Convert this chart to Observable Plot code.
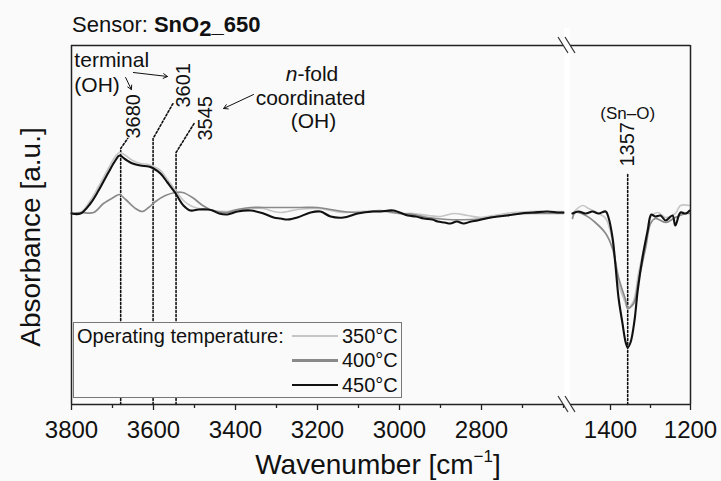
<!DOCTYPE html>
<html><head><meta charset="utf-8">
<script src="https://cdn.jsdelivr.net/npm/d3@7"></script>
<script src="https://cdn.jsdelivr.net/npm/@observablehq/plot@0.6"></script>
<style>
body{margin:0;background:#fafafa;}
#wrap{position:relative;width:721px;height:481px;overflow:hidden;font-family:"Liberation Sans",Arial,sans-serif;color:#111;background:#fafafa;}
.abs{position:absolute;white-space:nowrap;}
</style></head><body>
<div id="wrap">
  <div class="abs" style="left:564px;top:28px;width:6px;height:372px;background:#fff"></div>
  <div id="title" class="abs" style="left:72px;top:14px;font-size:22px;line-height:22px">Sensor: <b>SnO<span style="position:relative;top:4px">2</span>_650</b></div>
  <div id="ylab" class="abs" style="left:31px;top:237px;font-size:28px;line-height:28px;transform:translate(-50%,-50%) rotate(-90deg)">Absorbance [a.u.]</div>
  <div id="xlab" class="abs" style="left:378px;top:451px;font-size:28px;line-height:28px;transform:translateX(-50%)">Wavenumber [cm<span style="font-size:17px;position:relative;top:-12px">−1</span>]</div>
</div>
<script>
// ---- data ----
const seriesNames = ["350°C", "400°C", "450°C"];
const seriesColors = ["#c6c6c6", "#8a8a8a", "#111111"];
const seriesWidths = [1.7, 1.7, 2.1];
const legendTitle = "Operating temperature:";

// left panel (3800–2600 cm-1): [wavenumber, absorbance a.u.]
const s350Left = [[3800,0.0],[3778,0.0],[3754,1.2],[3734,2.6],[3710,4.4],[3693,5.6],[3683,6.0],[3668,5.7],[3651,5.2],[3632,4.9],[3612,4.8],[3600,4.6],[3583,4.2],[3566,3.3],[3546,2.2],[3527,1.2],[3510,0.7],[3490,0.4],[3468,0.3],[3456,0.2],[3420,0.1],[3395,0.3],[3363,0.4],[3332,0.4],[3307,0.1],[3290,0.0],[3273,0.1],[3249,0.3],[3217,0.4],[3193,0.4],[3168,0.2],[3137,0.0],[3102,0.1],[3063,0.1],[3046,0.1],[3000,-0.1],[2966,-0.1],[2930,-0.3],[2900,-0.4],[2868,-0.1],[2834,-0.3],[2802,-0.5],[2770,-0.3],[2722,0.0],[2680,0.1],[2640,0.1],[2600,0.1]];
const s400Left = [[3800,-0.1],[3778,0.0],[3746,0.0],[3722,0.9],[3698,1.5],[3683,1.8],[3668,1.3],[3644,0.4],[3627,0.1],[3612,0.5],[3595,1.1],[3571,1.7],[3546,2.0],[3529,2.0],[3505,1.5],[3480,0.7],[3456,0.2],[3420,0.0],[3395,0.3],[3363,0.5],[3332,0.5],[3300,0.5],[3270,0.5],[3240,0.5],[3200,0.5],[3168,0.3],[3137,0.1],[3100,0.0],[3046,0.2],[3000,-0.1],[2966,-0.2],[2930,-0.5],[2883,-0.7],[2827,-0.7],[2795,-0.6],[2761,-0.4],[2720,-0.2],[2680,-0.1],[2640,-0.1],[2600,-0.1]];
const s450Left = [[3800,-0.1],[3778,-0.1],[3754,0.9],[3734,2.2],[3710,4.0],[3693,5.2],[3683,5.7],[3668,5.3],[3651,4.9],[3632,4.7],[3612,4.6],[3600,4.4],[3583,3.9],[3566,3.0],[3546,1.9],[3527,0.7],[3510,0.2],[3490,0.3],[3468,0.3],[3456,0.2],[3440,-0.1],[3420,-0.2],[3395,0.1],[3363,0.2],[3332,-0.1],[3307,-0.5],[3290,-0.6],[3273,-0.7],[3249,-0.5],[3217,0.0],[3193,0.1],[3168,-0.4],[3137,-0.5],[3102,-0.1],[3063,0.1],[3046,0.1],[3015,0.2],[2980,-0.3],[2960,-0.4],[2941,-0.6],[2920,-0.7],[2907,-0.9],[2890,-1.0],[2876,-1.1],[2860,-0.9],[2844,-1.1],[2825,-0.9],[2810,-0.8],[2778,-0.5],[2737,-0.3],[2705,-0.1],[2673,0.0],[2639,0.1],[2615,0.0],[2600,0.0]];

// right panel (1500–1200 cm-1)
const s350Right = [[1495,-0.1],[1470,0.7],[1455,0.4],[1430,-0.1],[1412,-0.6],[1395,-2.8],[1380,-7.1],[1362,-9.1],[1357,-9.6],[1342,-8.8],[1330,-6.1],[1312,-2.8],[1300,-0.5],[1282,0.0],[1262,-0.5],[1238,-0.1],[1225,0.7],[1202,0.7]];
const s400Right = [[1495,-0.6],[1488,0.0],[1462,-0.3],[1438,-1.0],[1412,-2.1],[1395,-3.6],[1380,-6.5],[1362,-8.8],[1357,-9.6],[1342,-9.1],[1330,-6.8],[1312,-3.5],[1300,-1.1],[1288,-0.6],[1262,-1.0],[1238,-0.5],[1212,-0.1],[1202,-0.1]];
const s450Right = [[1495,-0.1],[1480,0.1],[1462,-0.1],[1445,0.1],[1430,-0.1],[1412,0.1],[1405,-0.5],[1395,-2.5],[1388,-5.1],[1380,-8.5],[1370,-11.1],[1362,-13.0],[1357,-13.5],[1350,-13.0],[1340,-10.8],[1332,-7.8],[1320,-4.5],[1307,-1.8],[1298,-0.2],[1288,-0.4],[1275,-0.3],[1262,-0.8],[1245,-0.3],[1238,-1.3],[1225,0.0],[1212,-0.1],[1202,0.2]];

const xDomainLeft = [3800, 2600];
const xDomainRight = [1500, 1200];
const yDomain = [-19.2, 16.7];
const xTicksLeft = [3800, 3600, 3400, 3200, 3000, 2800];
const xMinorLeft = [3700, 3500, 3300, 3100, 2900, 2700, 2600];
const xTicksRight = [1400, 1200];
const xMinorRight = [1300];

// annotations (data coordinates)
const leadersLeft = [
  [[3680,-19.2],[3680,6.4],[3663,7.4]],
  [[3601,-19.2],[3601,7.4],[3551,11.0]],
  [[3545,-19.2],[3545,6.0],[3501,8.9]]
];
const peakLabelsLeft = [{t:"3680",x:3649,y:7.4},{t:"3601",x:3527,y:10.5},{t:"3545",x:3473,y:7.2}];
const noteStartLeft = [{t:"terminal",x:3793,y:14.6},{t:"(OH)",x:3793,y:12.1}];
const noteMiddleLeft = [{t:"coordinated",x:3217,y:10.8},{t:"(OH)",x:3210,y:8.5}];
const nfold = {x:3249, y:13.2};
const arrowsLeft = [{x1:3649,y1:14.0,x2:3566,y2:13.6},{x1:3668,y1:13.5,x2:3654,y2:12.3},{x1:3356,y1:11.8,x2:3429,y2:10.4}];
const leaderRight = [[1357,-19.2],[1357,3.9]];
const peakLabelRight = [{t:"1357",x:1357,y:4.6}];
const bondLabelRight = [{t:"(Sn–O)",x:1357,y:9.4}];

// ---- drawing ----
const wrap = document.getElementById("wrap");
const FONT = "Liberation Sans, Arial, sans-serif";
const frameStroke = "#222";
const dotted = {stroke: "#111", strokeWidth: 1.6, strokeDasharray: "2,2"};
const lineMarks = (arrs) => arrs.map((a, i) => Plot.line(a, {x: d => d[0], y: d => d[1], stroke: seriesColors[i], strokeWidth: seriesWidths[i], curve: "catmull-rom"}));

const left = Plot.plot({
  width: 566, height: 481,
  marginLeft: 71, marginRight: 3, marginTop: 45, marginBottom: 77,
  x: {domain: xDomainLeft},
  y: {domain: yDomain, axis: null},
  style: {position: "absolute", left: "0px", top: "0px", background: "transparent", fontFamily: FONT, color: "#111", overflow: "visible"},
  marks: [
    ...leadersLeft.map(l => Plot.line(l, {x: d => d[0], y: d => d[1], ...dotted})),
    ...lineMarks([s350Left, s400Left, s450Left]),
    Plot.ruleY([yDomain[0]], {stroke: frameStroke, strokeWidth: 1.5}),
    Plot.ruleY([yDomain[1]], {stroke: frameStroke, strokeWidth: 1.5}),
    Plot.ruleX([xDomainLeft[0]], {stroke: frameStroke, strokeWidth: 1.5}),
    Plot.axisX({ticks: xTicksLeft, tickSize: 6, tickPadding: 10, tickFormat: d => String(d), fontSize: 24, label: null, stroke: frameStroke, strokeWidth: 1.3}),
    Plot.axisX({ticks: xMinorLeft, tickSize: 4, tickFormat: () => "", label: null, stroke: frameStroke, strokeWidth: 1.3}),
    Plot.text(peakLabelsLeft, {x: "x", y: "y", text: "t", rotate: -90, textAnchor: "start", lineAnchor: "middle", fontSize: 20, fill: "#111"}),
    Plot.text(noteStartLeft, {x: "x", y: "y", text: "t", textAnchor: "start", lineAnchor: "bottom", fontSize: 21, fill: "#111"}),
    Plot.text(noteMiddleLeft, {x: "x", y: "y", text: "t", textAnchor: "middle", lineAnchor: "bottom", fontSize: 21, fill: "#111"}),
    Plot.text([nfold], {x: "x", y: "y", text: () => "n", textAnchor: "end", lineAnchor: "bottom", fontSize: 21, fontStyle: "italic", fill: "#111"}),
    Plot.text([nfold], {x: "x", y: "y", text: () => "-fold", textAnchor: "start", lineAnchor: "bottom", fontSize: 21, fill: "#111"}),
    Plot.arrow(arrowsLeft, {x1: "x1", y1: "y1", x2: "x2", y2: "y2", stroke: "#111", strokeWidth: 1, headLength: 7})
  ]
});
wrap.appendChild(left);

const right = Plot.plot({
  width: 155, height: 481,
  marginLeft: 4, marginRight: 31, marginTop: 45, marginBottom: 77,
  x: {domain: xDomainRight},
  y: {domain: yDomain, axis: null},
  style: {position: "absolute", left: "566px", top: "0px", background: "transparent", fontFamily: FONT, color: "#111", overflow: "visible"},
  marks: [
    Plot.line(leaderRight, {x: d => d[0], y: d => d[1], ...dotted}),
    ...lineMarks([s350Right, s400Right, s450Right]),
    Plot.ruleY([yDomain[0]], {stroke: frameStroke, strokeWidth: 1.5}),
    Plot.ruleY([yDomain[1]], {stroke: frameStroke, strokeWidth: 1.5}),
    Plot.ruleX([xDomainRight[1]], {stroke: frameStroke, strokeWidth: 1.5}),
    Plot.axisX({ticks: xTicksRight, tickSize: 6, tickPadding: 10, tickFormat: d => String(d), fontSize: 24, label: null, stroke: frameStroke, strokeWidth: 1.3}),
    Plot.axisX({ticks: xMinorRight, tickSize: 4, tickFormat: () => "", label: null, stroke: frameStroke, strokeWidth: 1.3}),
    Plot.text(peakLabelRight, {x: "x", y: "y", text: "t", rotate: -90, textAnchor: "start", lineAnchor: "middle", fontSize: 20, fill: "#111"}),
    Plot.text(bondLabelRight, {x: "x", y: "y", text: "t", textAnchor: "middle", lineAnchor: "bottom", fontSize: 17, fill: "#111"})
  ]
});
wrap.appendChild(right);

// axis-break marks
const ns = "http://www.w3.org/2000/svg";
const brk = document.createElementNS(ns, "svg");
brk.setAttribute("width", 721); brk.setAttribute("height", 481);
brk.style.cssText = "position:absolute;left:0;top:0;pointer-events:none";
[45, 404].forEach(yc => {
  [-3, 4].forEach(dx => {
    const l = document.createElementNS(ns, "line");
    l.setAttribute("x1", 561 + dx); l.setAttribute("y1", yc - 8);
    l.setAttribute("x2", 571 + dx); l.setAttribute("y2", yc + 8);
    l.setAttribute("stroke", "#333"); l.setAttribute("stroke-width", 1.2);
    brk.appendChild(l);
  });
});
wrap.appendChild(brk);

// legend
const leg = document.createElement("div");
leg.className = "abs";
leg.style.cssText = "position:absolute;left:73px;top:322px;width:327px;height:74px;border:1px solid #777;background:#fafafa;font-size:20px;";
const lt = document.createElement("div");
lt.className = "abs";
lt.style.cssText = "left:3px;top:0px;height:26px;line-height:26px;";
lt.textContent = legendTitle;
leg.appendChild(lt);
seriesNames.forEach((name, i) => {
  const row = document.createElement("div");
  row.className = "abs";
  row.style.cssText = `left:218px;top:${i * 24.5}px;height:26px;display:flex;align-items:center;`;
  const sw = document.createElement("span");
  sw.style.cssText = `display:inline-block;width:46px;height:2.5px;background:${seriesColors[i]};margin-right:4px;`;
  const tx = document.createElement("span");
  tx.textContent = name;
  row.appendChild(sw); row.appendChild(tx);
  leg.appendChild(row);
});
wrap.appendChild(leg);
</script>
</body></html>
